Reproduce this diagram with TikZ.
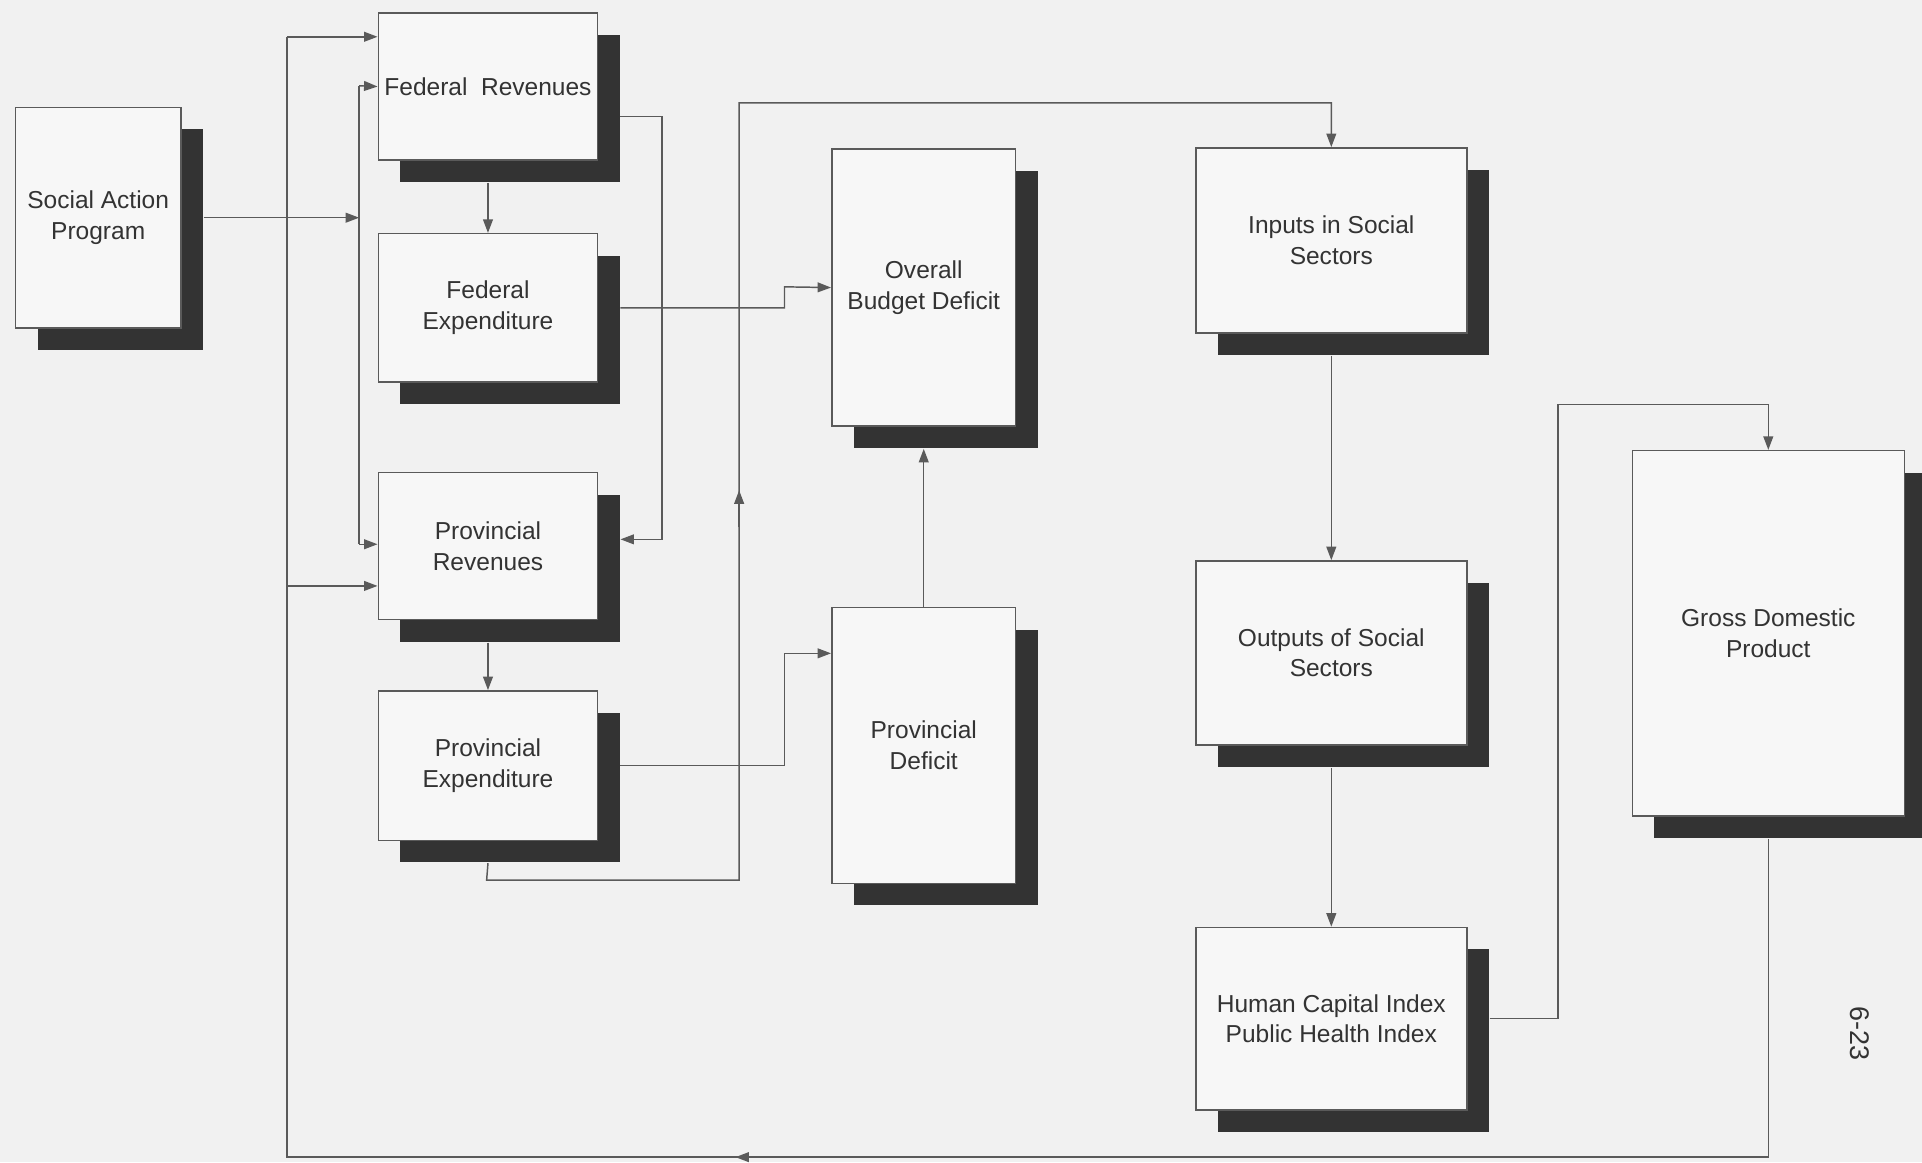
\documentclass[tikz,border=0pt]{standalone}
\usepackage{fontspec}
\setmainfont{Liberation Sans}
\usetikzlibrary{arrows.meta,shadows,calc}
\definecolor{bg}{HTML}{F1F1F1}
\definecolor{boxfill}{HTML}{F7F7F7}
\definecolor{linec}{HTML}{5A5A5A}
\definecolor{shadowc}{HTML}{333333}
\definecolor{txt}{HTML}{333333}
\begin{document}
\begin{tikzpicture}[x=1pt,y=-1pt,
  blk/.style={draw=linec, line width=1.2pt, fill=boxfill, anchor=north west,
    inner sep=0pt, align=center, text=txt, font=\fontsize{20}{25}\selectfont,
    drop shadow={shadow xshift=18pt, shadow yshift=-18pt, fill=shadowc, opacity=1}},
  conn/.style={draw=linec, line width=1.2pt},
  arr/.style={conn, -{Triangle[length=11pt,width=8pt]}}]
\fill[bg] (0,0) rectangle (1568,948);
\useasboundingbox (0,0) rectangle (1568,948);
% nodes
\node[blk, minimum width=135pt, minimum height=180pt] (sap) at (12,87) {Social Action\\Program};
\node[blk, minimum width=179pt, minimum height=120pt] (fr) at (308,10) {Federal \ Revenues};
\node[blk, minimum width=179pt, minimum height=121pt] (fe) at (308,190) {Federal\\Expenditure};
\node[blk, minimum width=179pt, minimum height=120pt] (pr) at (308,385) {Provincial\\Revenues};
\node[blk, minimum width=179pt, minimum height=122pt] (pe) at (308,563) {Provincial\\Expenditure};
\node[blk, minimum width=150pt, minimum height=226pt] (obd) at (678,121) {Overall\\Budget Deficit};
\node[blk, minimum width=150pt, minimum height=225pt] (pd) at (678,495) {Provincial\\Deficit};
\node[blk, minimum width=221pt, minimum height=151pt] (iss) at (975,120) {Inputs in Social\\Sectors};
\node[blk, minimum width=221pt, minimum height=150pt] (oss) at (975,457) {Outputs of Social\\Sectors};
\node[blk, minimum width=221pt, minimum height=149pt] (hci) at (975,756) {Human Capital Index\\Public Health Index};
\node[blk, minimum width=222pt, minimum height=298pt] (gdp) at (1331,367) {Gross Domestic\\Product};
\node[text=txt, font=\fontsize{22}{22}\selectfont, rotate=-90] (pg) at (1517,843) {6-23};
% bus coordinates
\coordinate (sapbus) at (293,176);
\coordinate (lbtop) at (234,30);
\coordinate (lbmid) at (234,478);
\coordinate (lbbot) at (234,944);
% Social Action Program to revenues
\draw[arr] ([xshift=18pt]sap.east) -- (sapbus |- sap.east);
\draw[conn] (293,70) -- (293,444);
\draw[arr] (293,70) -- (fr.west);
\draw[arr] (293,444) -- (pr.west |- 0,444);
% feedback loop from GDP
\draw[conn] ([yshift=-18pt]gdp.south) -- (gdp.south |- lbbot) -- (lbbot) -- (lbtop);
\draw[arr] (lbtop) -- (fr.west |- lbtop);
\draw[arr] (lbmid) -- (pr.west |- lbmid);
\draw[arr] (650,944) -- (600,944);
% federal chain
\draw[arr] ([yshift=-18pt]fr.south) -- (fe.north);
\draw[arr] ([xshift=18pt]fr.east |- 0,95) -- (540,95) -- (540,440) -- ([xshift=18pt]pr.east |- 0,440);
\draw[arr] ([xshift=18pt]fe.east) -- (fe.east -| 640,0) -- (640,234) -- (obd.west);
% provincial chain
\draw[arr] ([yshift=-18pt]pr.south) -- (pe.north);
\draw[arr] ([xshift=18pt]pe.east) -- (pe.east -| 640,0) -- (640,533) -- (pd.west |- 0,533);
\draw[arr] (pd.north) -- ([yshift=-18pt]obd.south);
% expenditure to inputs
\draw[arr] ([yshift=-18pt]pe.south) -- (397,718) -- (603,718) -- (603,84) -- (iss.north |- 0,84) -- (iss.north);
\draw[arr] (603,430) -- (603,400);
% social sectors chain
\draw[arr] ([yshift=-18pt]iss.south) -- (oss.north);
\draw[arr] ([yshift=-18pt]oss.south) -- (hci.north);
\draw[arr] ([xshift=18pt]hci.east) -- (hci.east -| 1271,0) -- (1271,330) -- (gdp.north |- 0,330) -- (gdp.north);
\end{tikzpicture}
\end{document}
